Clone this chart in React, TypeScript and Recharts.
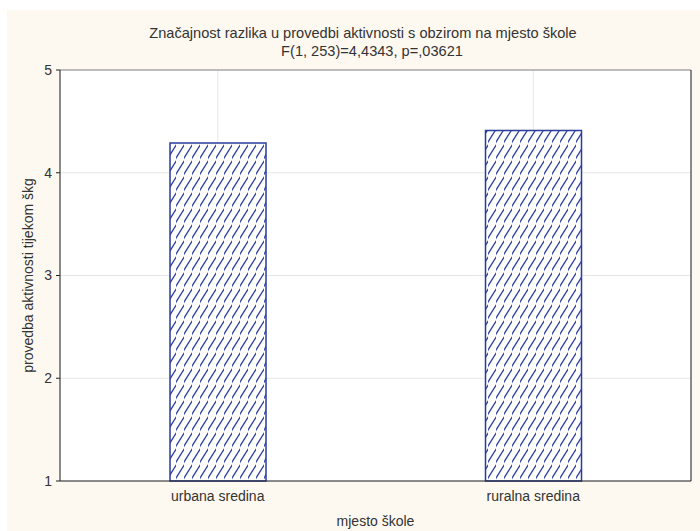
import { BarChart, Bar, XAxis, YAxis, CartesianGrid, ReferenceLine } from 'recharts'

const categories = ['urbana sredina', 'ruralna sredina']
const means = [4.29, 4.41]
const yTicks = [1, 2, 3, 4, 5]
const rightTicks = [1, 2, 3, 4, 5, 6]

const titleLine1 = 'Značajnost razlika u provedbi aktivnosti s obzirom na mjesto škole'
const titleLine2 = 'F(1, 253)=4,4343, p=,03621'

const data = categories.map((c, i) => ({ name: c, value: means[i] }))

const font = 'Arial, "Liberation Sans", sans-serif'
const blue = '#2a3d9e'
const textColor = '#333'

export default function App() {
  return (
    <div style={{ position: 'absolute', left: 0, top: 0, width: 700, height: 531, background: '#fff', overflow: 'hidden' }}>
      <div style={{ position: 'absolute', left: 7, top: 10, right: 0, bottom: 0, background: '#fdf9f0' }} />
      <div
        style={{
          position: 'absolute',
          left: 0,
          width: 726,
          top: 24,
          textAlign: 'center',
          fontFamily: font,
          fontSize: 14.6,
          color: textColor,
          lineHeight: '18px'
        }}
      >
        <div>{titleLine1}</div>
        <div style={{ paddingLeft: 18 }}>{titleLine2}</div>
      </div>
      <div style={{ position: 'absolute', left: 0, top: 0 }}>
        <BarChart
          width={700}
          height={531}
          data={data}
          margin={{ top: 70, right: 9, bottom: 0, left: 0 }}
          barSize={96}
        >
          <defs>
            <pattern id="hatch" patternUnits="userSpaceOnUse" width={8} height={16}>
              <rect width={8} height={16} fill="#fff" />
              <path d="M-1,15.5 L8.5,0.5" stroke={blue} strokeWidth={1.3} />
            </pattern>
          </defs>
          <CartesianGrid stroke="#e6e6e6" fill="#fff" yAxisId="left" />
          <XAxis
            dataKey="name"
            height={50}
            tickLine={false}
            axisLine={{ stroke: '#222' }}
            tick={{ fill: textColor, fontFamily: font, fontSize: 14 }}
            tickMargin={4}
            label={{
              value: 'mjesto škole',
              position: 'insideBottom',
              offset: 5,
              fill: textColor,
              fontFamily: font,
              fontSize: 14
            }}
          />
          <YAxis
            yAxisId="left"
            domain={[1, 5]}
            ticks={yTicks}
            width={60}
            tickSize={4}
            tickMargin={4}
            axisLine={{ stroke: '#222' }}
            tickLine={{ stroke: '#222' }}
            tick={{ fill: textColor, fontFamily: font, fontSize: 14 }}
            label={{
              value: 'provedba aktivnosti tijekom škg',
              angle: -90,
              position: 'center',
              dx: -2,
              fill: textColor,
              fontFamily: font,
              fontSize: 14
            }}
          />
          <YAxis
            yAxisId="right"
            orientation="right"
            domain={[0, 7]}
            ticks={rightTicks}
            width={1}
            mirror
            tick={false}
            tickSize={3}
            axisLine={{ stroke: '#222' }}
            tickLine={{ stroke: '#555' }}
          />
          <ReferenceLine yAxisId="left" y={5} stroke="#888" ifOverflow="visible" />
          <Bar
            yAxisId="left"
            dataKey="value"
            fill="url(#hatch)"
            stroke={blue}
            strokeWidth={1.5}
            isAnimationActive={false}
          />
        </BarChart>
      </div>
    </div>
  )
}
